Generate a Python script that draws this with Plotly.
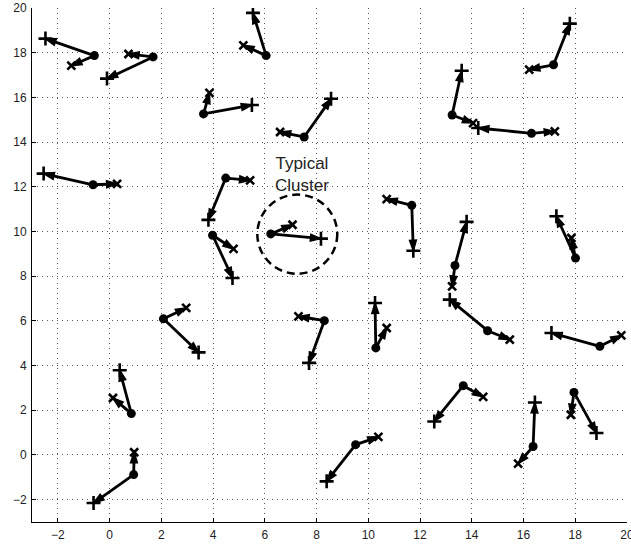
import plotly.graph_objects as go

# cluster centres
center_x = [-0.59, 1.68, 6.05, 3.63, 7.52, 17.16, 13.24, 16.31, -0.64, 4.49, 3.98, 6.23, 11.68,
            8.30, 10.29, 13.35, 14.61, 18.01, 18.95, 2.08, 0.84, 0.93, 9.51, 13.67, 16.37, 17.95]
center_y = [17.87, 17.81, 17.87, 15.26, 14.23, 17.46, 15.21, 14.39, 12.09, 12.39, 9.83, 9.89, 11.17,
            6.01, 4.79, 8.48, 5.56, 8.81, 4.86, 6.09, 1.85, -0.88, 0.46, 3.10, 0.38, 2.80]
# '+' endpoints
plus_x = [-2.48, -0.10, 5.54, 5.50, 8.56, 17.79, 13.61, 14.25, -2.55, 3.82, 4.75, 8.17, 11.74,
          7.71, 10.26, 13.80, 13.15, 17.27, 17.08, 3.44, 0.39, -0.62, 8.39, 12.55, 16.44, 18.82]
plus_y = [18.63, 16.84, 19.78, 15.66, 15.94, 19.30, 17.19, 14.63, 12.59, 10.52, 7.92, 9.68, 9.14,
          4.12, 6.80, 10.43, 6.95, 10.68, 5.46, 4.59, 3.79, -2.15, -1.18, 1.50, 2.35, 0.98]
# 'x' endpoints
cross_x = [-1.48, 0.73, 5.17, 3.86, 6.59, 16.22, 14.05, 17.21, 0.29, 5.43, 4.79, 7.07, 10.71,
           7.30, 10.71, 13.24, 15.47, 17.85, 19.78, 2.96, 0.13, 0.95, 10.39, 14.44, 15.79, 17.83]
cross_y = [17.42, 17.94, 18.33, 16.20, 14.45, 17.24, 14.85, 14.48, 12.13, 12.29, 9.22, 10.30, 11.45,
           6.20, 5.68, 7.54, 5.16, 9.71, 5.35, 6.58, 2.55, 0.12, 0.81, 2.60, -0.39, 1.80]

tick_vals = [-2, 0, 2, 4, 6, 8, 10, 12, 14, 16, 18, 20]

# typical cluster highlight
circle_x0, circle_x1 = 5.71, 8.80
circle_y0, circle_y1 = 8.11, 11.65
label_x, label_y = 7.43, 12.56
label_text = "Typical<br>Cluster"

fig = go.Figure()

arm_style = dict(color="black", width=2.8)
for i in range(len(center_x)):
    for ex, ey in ((plus_x[i], plus_y[i]), (cross_x[i], cross_y[i])):
        fig.add_trace(go.Scatter(
            x=[center_x[i], ex], y=[center_y[i], ey], mode="lines+markers",
            line=arm_style,
            marker=dict(symbol="arrow", size=[0, 11], angleref="previous",
                        color="black", opacity=1, line=dict(color="black", width=1.5)),
            showlegend=False, hoverinfo="skip"))

fig.add_trace(go.Scatter(x=center_x, y=center_y, mode="markers",
                         marker=dict(symbol="circle", size=9, color="black"),
                         showlegend=False))
fig.add_trace(go.Scatter(x=plus_x, y=plus_y, mode="markers",
                         marker=dict(symbol="cross-thin-open", size=10, color="black",
                                     line=dict(color="black", width=2.6)),
                         showlegend=False))
fig.add_trace(go.Scatter(x=cross_x, y=cross_y, mode="markers",
                         marker=dict(symbol="x-thin-open", size=8, color="black",
                                     line=dict(color="black", width=2.6)),
                         showlegend=False))

fig.add_shape(type="circle", xref="x", yref="y",
              x0=circle_x0, x1=circle_x1, y0=circle_y0, y1=circle_y1,
              line=dict(color="black", width=2.5, dash="8px,5px"))

fig.add_annotation(x=label_x, y=label_y, text=label_text, showarrow=False,
                   font=dict(family="Liberation Sans, Arial", size=17, color="#222"),
                   xref="x", yref="y")

axis_common = dict(
    tickvals=tick_vals, showgrid=True, gridcolor="#555", griddash="1px,4px", gridwidth=1,
    zeroline=False, showline=True, linecolor="black", linewidth=1,
    ticks="inside", ticklen=4, tickcolor="black", automargin=False,
    tickfont=dict(family="Liberation Sans, Arial", size=12, color="#222"),
)
fig.update_xaxes(range=[-3, 20], ticklabelstandoff=2, ticklabeloverflow="allow", **axis_common)
fig.update_yaxes(range=[-3, 20], ticklabelstandoff=2, **axis_common)

fig.update_layout(
    width=631, height=546,
    margin=dict(l=32, r=4, t=8, b=24, autoexpand=False),
    plot_bgcolor="white", paper_bgcolor="white",
    showlegend=False,
)

fig.write_html("out.html", config={"displayModeBar": False},
               post_script="document.body.style.margin='0';")
